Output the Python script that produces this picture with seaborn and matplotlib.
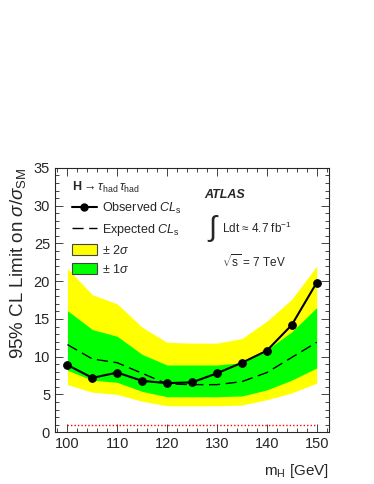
import numpy as np
import pandas as pd
import matplotlib
matplotlib.use("Agg")
import matplotlib.pyplot as plt
import seaborn as sns
from matplotlib.lines import Line2D
from matplotlib.patches import Patch
from matplotlib.ticker import MultipleLocator

# --- dados ---
mass = [100, 105, 110, 115, 120, 125, 130, 135, 140, 145, 150]
observed = [8.9, 7.2, 7.9, 6.8, 6.5, 6.6, 7.8, 9.2, 10.8, 14.2, 19.8]
expected = [11.6, 9.7, 9.2, 7.8, 6.4, 6.3, 6.3, 6.7, 7.9, 9.9, 11.9]
plus2 = [21.7, 18.2, 17.0, 13.9, 11.9, 11.8, 11.8, 12.4, 14.7, 17.6, 22.0]
plus1 = [16.1, 13.6, 12.7, 10.3, 8.9, 8.9, 8.9, 9.2, 10.9, 13.3, 16.5]
minus1 = [8.2, 6.9, 6.6, 5.4, 4.7, 4.7, 4.7, 4.8, 5.6, 6.9, 8.5]
minus2 = [6.3, 5.3, 5.0, 4.1, 3.5, 3.5, 3.5, 3.6, 4.3, 5.2, 6.5]
sm_line = 1.0

df = pd.DataFrame({"mH": mass, "obs": observed, "exp": expected})

sns.set_style("ticks")
plt.rcParams["font.family"] = ["Liberation Sans", "DejaVu Sans"]
plt.rcParams["mathtext.fontset"] = "custom"
plt.rcParams["mathtext.rm"] = "Liberation Sans"
plt.rcParams["mathtext.it"] = "Liberation Sans:italic"
plt.rcParams["mathtext.bf"] = "Liberation Sans:bold"

fig = plt.figure(figsize=(3.74, 4.84), dpi=100)
ax = fig.add_axes([0.147, 0.107, 0.733, 0.546])

yellow = "#ffff00"
green = "#00ff00"
ax.fill_between(mass, minus2, plus2, color=yellow, lw=0, zorder=1)
ax.fill_between(mass, minus1, plus1, color=green, lw=0, zorder=2)

sns.lineplot(data=df, x="mH", y="exp", ax=ax, color="black", lw=1.0,
             linestyle=(0, (8, 4)), zorder=3)
sns.lineplot(data=df, x="mH", y="obs", ax=ax, color="black", lw=1.5,
             marker="o", markersize=5.5, markeredgecolor="black", zorder=4)
ax.hlines(sm_line, mass[0], mass[-1], color="red", lw=1.0,
          linestyle=(0, (1, 1.5)), zorder=3)

ax.set_xlim(97.5, 152.5)
ax.set_ylim(0, 35)
ax.xaxis.set_major_locator(MultipleLocator(10))
ax.xaxis.set_minor_locator(MultipleLocator(2))
ax.yaxis.set_major_locator(MultipleLocator(5))
ax.yaxis.set_minor_locator(MultipleLocator(1))
ax.tick_params(which="both", direction="in", top=True, right=True, labelsize=10.5)
ax.tick_params(which="major", length=6, width=0.6)
ax.tick_params(which="minor", length=3, width=0.6)
for s in ax.spines.values():
    s.set_linewidth(0.8)

ax.set_xlabel(r"m$_\mathregular{H}$ [GeV]", fontsize=11, loc="right", labelpad=8)
ax.set_ylabel(r"95% CL Limit on $\sigma/\sigma_\mathregular{SM}$", fontsize=13.5, loc="top", labelpad=4)

# legenda
handles = [
    Line2D([], [], color="black", lw=1.5, marker="o", markersize=5),
    Line2D([], [], color="black", lw=1.0, linestyle=(0, (8, 4))),
    Patch(facecolor=yellow, edgecolor="#444444", lw=0.8),
    Patch(facecolor=green, edgecolor="#444444", lw=0.8),
]
labels = [r"Observed $\mathit{CL}_\mathregular{s}$", r"Expected $\mathit{CL}_\mathregular{s}$",
          r"$\pm$ 2$\sigma$", r"$\pm$ 1$\sigma$"]
leg = ax.legend(handles, labels, loc="upper left", frameon=False, fontsize=9,
                title=r"$\mathbf{H}\rightarrow\tau_\mathregular{had}\,\tau_\mathregular{had}$",
                title_fontsize=9, alignment="left", handlelength=2.0, handleheight=1.05,
                labelspacing=0.47, handletextpad=0.4, borderpad=0, borderaxespad=0,
                bbox_to_anchor=(0.062, 0.955))

ax.text(127.5, 31.4, "ATLAS", fontsize=9, fontweight="bold", fontstyle="italic",
        va="center", ha="left")
ax.text(128.0, 27.0, r"$\int$", fontsize=21, va="center", ha="left")
ax.text(131.0, 27.0, "Ldt \u2248 4.7 fb$^\\mathregular{-1}$", fontsize=8.5, va="center", ha="left")
ax.text(131, 22.6, r"$\sqrt{\mathregular{s}}$ = 7 TeV", fontsize=8.5, va="center", ha="left")

fig.savefig("out.png", dpi=100)
